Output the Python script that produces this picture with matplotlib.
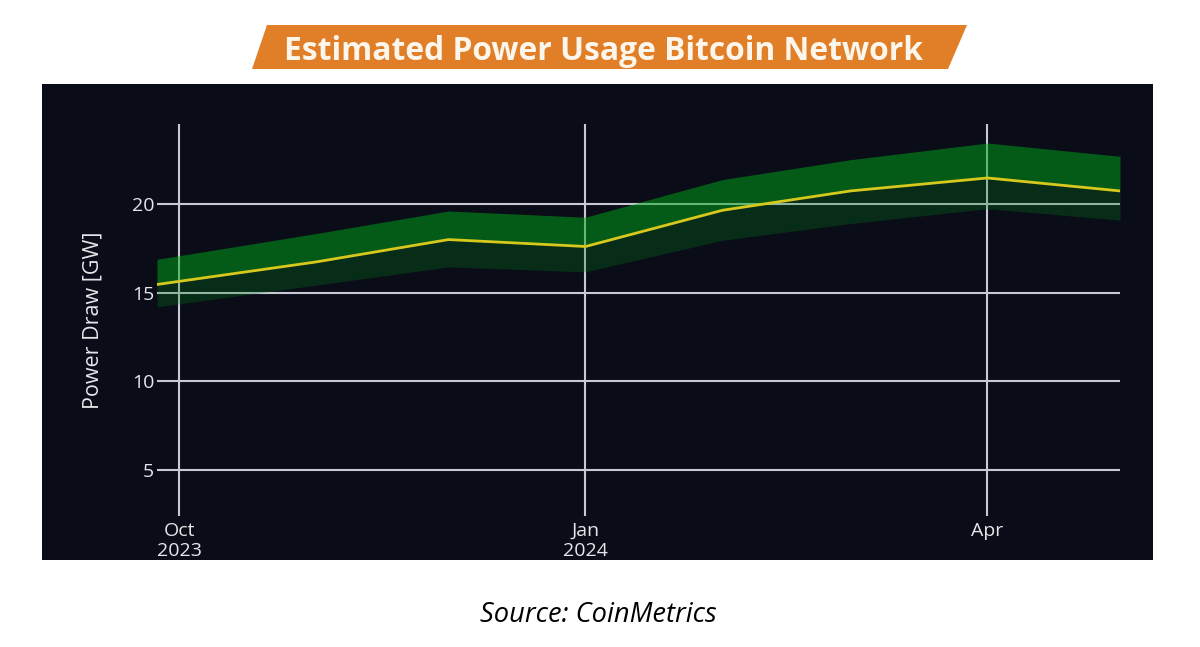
import numpy as np
import matplotlib
matplotlib.use("Agg")

import matplotlib.pyplot as plt
import matplotlib.patches as mpatches
import matplotlib.dates as mdates

W, H = 1200, 647

dates = np.array(["2023-09-26", "2023-11-01", "2023-12-01", "2024-01-01",
                  "2024-02-01", "2024-03-01", "2024-04-01", "2024-05-01"],
                 dtype="datetime64[D]")
power_mid = [15.46, 16.73, 17.99, 17.60, 19.64, 20.73, 21.46, 20.73]
power_upper = [16.88, 18.33, 19.60, 19.25, 21.37, 22.49, 23.43, 22.68]
power_lower = [14.20, 15.42, 16.45, 16.17, 17.95, 18.89, 19.73, 19.08]

y_ticks = [5, 10, 15, 20]
x_ticks = np.array(["2023-10-01", "2024-01-01", "2024-04-01"], dtype="datetime64[D]")
x_tick_labels = ["Oct\n2023", "Jan\n2024", "Apr"]

BG = "#0a0c17"
GRID = "#c9c9d3"
TEXT = "#e6e6ea"


def px_axes(fig, x0, y0, x1, y1):
    # pixel box, y measured from the top of the image
    return fig.add_axes([x0 / W, 1 - y1 / H, (x1 - x0) / W, (y1 - y0) / H])


fig = plt.figure(figsize=(W / 100, H / 100), dpi=100, facecolor="white")
plt.rcParams["font.family"] = ["Open Sans", "DejaVu Sans"]

# dark panel behind the plot
panel = px_axes(fig, 42, 84, 1153, 560)
panel.set_facecolor(BG)
panel.set_xticks([])
panel.set_yticks([])
for s in panel.spines.values():
    s.set_visible(False)

ax = px_axes(fig, 157, 124, 1120, 516)
ax.patch.set_alpha(0)
for s in ax.spines.values():
    s.set_visible(False)

ax.set_xlim(dates[0], dates[-1])
ax.set_ylim(2.42, 24.5)

ax.set_yticks(y_ticks)
ax.set_xticks(x_ticks)
ax.set_xticklabels(x_tick_labels)
ax.xaxis.set_major_locator(matplotlib.ticker.FixedLocator(mdates.date2num(x_ticks)))
ax.grid(True, color=GRID, linewidth=1.5, zorder=1)
ax.set_axisbelow(True)
ax.tick_params(axis="y", length=0, pad=2, labelsize=14, labelcolor=TEXT)
ax.tick_params(axis="x", length=0, pad=4, labelsize=14, labelcolor=TEXT)
ax.set_ylabel("Power Draw [GW]", color=TEXT, fontsize=15.5, labelpad=20)

ax.fill_between(dates, power_mid, power_upper, color="#00a818", alpha=0.5,
                linewidth=0, zorder=2)
ax.fill_between(dates, power_lower, power_mid, color="#00821e", alpha=0.28,
                linewidth=0, zorder=2)
ax.plot(dates, power_mid, color="#d6c81c", linewidth=2, zorder=3,
        solid_joinstyle="round")

# orange title banner
banner_px = [(252, 69), (267, 25), (967, 25), (948, 69)]
banner = mpatches.Polygon([(x / W, 1 - y / H) for x, y in banner_px], closed=True,
                          transform=fig.transFigure, facecolor="#e07f27",
                          edgecolor="none")
fig.add_artist(banner)
fig.text(603.5 / W, 1 - 51 / H, "Estimated Power Usage Bitcoin Network",
         ha="center", va="center", color="#fdf6ec", fontsize=22.9, fontweight="bold")

fig.text(598.5 / W, 1 - 615 / H, "Source: CoinMetrics", ha="center", va="center",
         color="black", fontsize=19.6, fontstyle="italic")

fig.savefig("out.png", dpi=100)
plt.close(fig)
